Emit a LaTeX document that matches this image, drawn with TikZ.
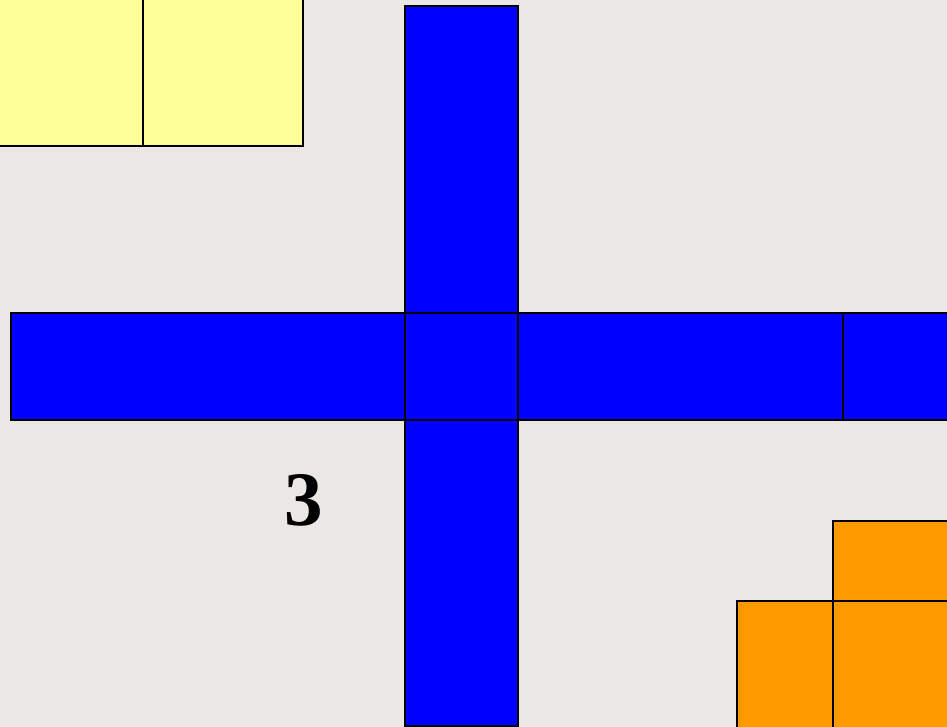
\documentclass[tikz,border=0pt]{standalone}
\usepackage{fontspec}
\setmainfont{Liberation Serif}
\definecolor{bg}{HTML}{EBE7E4}
\definecolor{yel}{HTML}{FFFF99}
\definecolor{blu}{HTML}{0000FF}
\definecolor{ora}{HTML}{FF9900}
\begin{document}
\begin{tikzpicture}[x=1pt,y=-1pt,
  cell/.style={draw=black,line width=1.8pt},
  ycell/.style={cell,fill=yel},
  bcell/.style={cell,fill=blu},
  ocell/.style={cell,fill=ora}]
\fill[bg] (0,0) rectangle (947,727);
\useasboundingbox (0,0) rectangle (947,727);
% yellow
\draw[ycell] (-5,-5) rectangle (143,146);
\draw[ycell] (143,-5) rectangle (303,146);
% blue vertical
\draw[bcell] (405,6) rectangle (518,313);
\draw[bcell] (405,420) rectangle (518,726);
% blue horizontal
\draw[bcell] (11,313) rectangle (405,420);
\draw[bcell] (405,313) rectangle (518,420);
\draw[bcell] (518,313) rectangle (843,420);
\draw[bcell] (843,313) rectangle (955,420);
% orange
\draw[ocell] (833,521) rectangle (955,601);
\draw[ocell] (737,601) rectangle (833,735);
\draw[ocell] (833,601) rectangle (955,735);
% label
\node (lbl) at (304,500) {\fontsize{77}{80}\selectfont\bfseries 3};
\end{tikzpicture}
\end{document}
